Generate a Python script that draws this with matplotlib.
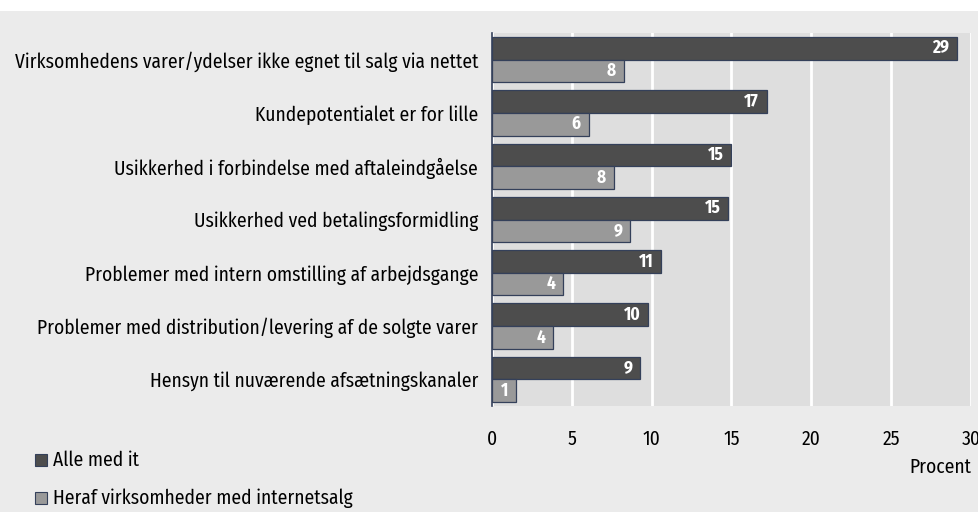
import matplotlib
matplotlib.use("Agg")
import matplotlib.pyplot as plt
import matplotlib.patches as mpatches
import numpy as np

categories = [
    "Virksomhedens varer/ydelser ikke egnet til salg via nettet",
    "Kundepotentialet er for lille",
    "Usikkerhed i forbindelse med aftaleindgåelse",
    "Usikkerhed ved betalingsformidling",
    "Problemer med intern omstilling af arbejdsgange",
    "Problemer med distribution/levering af de solgte varer",
    "Hensyn til nuværende afsætningskanaler",
]
alle_med_it = [29.1, 17.2, 15.0, 14.8, 10.6, 9.8, 9.3]
alle_labels = ["29", "17", "15", "15", "11", "10", "9"]
internetsalg = [8.25, 6.05, 7.65, 8.65, 4.45, 3.85, 1.5]
internet_labels = ["8", "6", "8", "9", "4", "4", "1"]
xticks = [0, 5, 10, 15, 20, 25, 30]
series_names = ["Alle med it", "Heraf virksomheder med internetsalg"]

plt.rcParams["font.family"] = ["Fira Sans Condensed", "Asap Condensed", "Archivo Narrow",
                               "Roboto Condensed", "DejaVu Sans"]

W, H = 979, 512
fig = plt.figure(figsize=(W / 100, H / 100), dpi=100)
fig.patch.set_facecolor("white")

fig.patches.append(mpatches.Rectangle((0, 0), 1, 1 - 11 / H, transform=fig.transFigure,
                                      facecolor="#ebebeb", edgecolor="none", zorder=-10))

ax = fig.add_axes([492 / W, 1 - 406 / H, (971 - 492) / W, (406 - 33) / H])
ax.set_facecolor("#dedede")

dark = "#4d4d4d"
light = "#999999"
edge = "#34405a"
n = len(categories)
y = np.arange(n)
h = 0.425
ax.barh(y - h / 2, alle_med_it, height=h, color=dark, edgecolor=edge, linewidth=0.9, zorder=3)
ax.barh(y + h / 2, internetsalg, height=h, color=light, edgecolor=edge, linewidth=0.9, zorder=3)

FS = 14
for i in range(n):
    ax.text(alle_med_it[i] - 0.5, y[i] - h / 2, alle_labels[i], ha="right", va="center",
            color="white", fontsize=12.5, fontweight="bold", zorder=4)
    ax.text(internetsalg[i] - 0.5, y[i] + h / 2, internet_labels[i], ha="right", va="center",
            color="white", fontsize=12.5, fontweight="bold", zorder=4)

ax.set_ylim(n - 0.5, -0.5)
ax.set_xlim(0, 30)
ax.set_xticks(xticks)
ax.set_xticklabels([str(t) for t in xticks], fontsize=FS)
ax.set_yticks(y)
ax.set_yticklabels(categories, fontsize=FS)
ax.tick_params(axis="both", length=0)
ax.tick_params(axis="x", pad=17)
ax.tick_params(axis="y", pad=10)
ax.grid(axis="x", color="white", linewidth=2, zorder=1)
ax.set_axisbelow(True)
for s in ["top", "right", "bottom"]:
    ax.spines[s].set_visible(False)
ax.spines["left"].set_color(edge)
ax.spines["left"].set_linewidth(1.2)
ax.spines["left"].set_zorder(5)

fig.text(971 / W, 1 - 467 / H, "Procent", ha="right", va="center", fontsize=FS)

for k, (name, col) in enumerate(zip(series_names, [dark, light])):
    yc = 1 - (460 + 38 * k) / H
    fig.patches.append(mpatches.Rectangle((35 / W, yc - 6 / H), 12 / W, 12 / H,
                                          transform=fig.transFigure, facecolor=col,
                                          edgecolor=edge, linewidth=0.8))
    fig.text(53 / W, yc, name, ha="left", va="center", fontsize=FS)

fig.savefig("out.png", dpi=100, facecolor=fig.get_facecolor())
